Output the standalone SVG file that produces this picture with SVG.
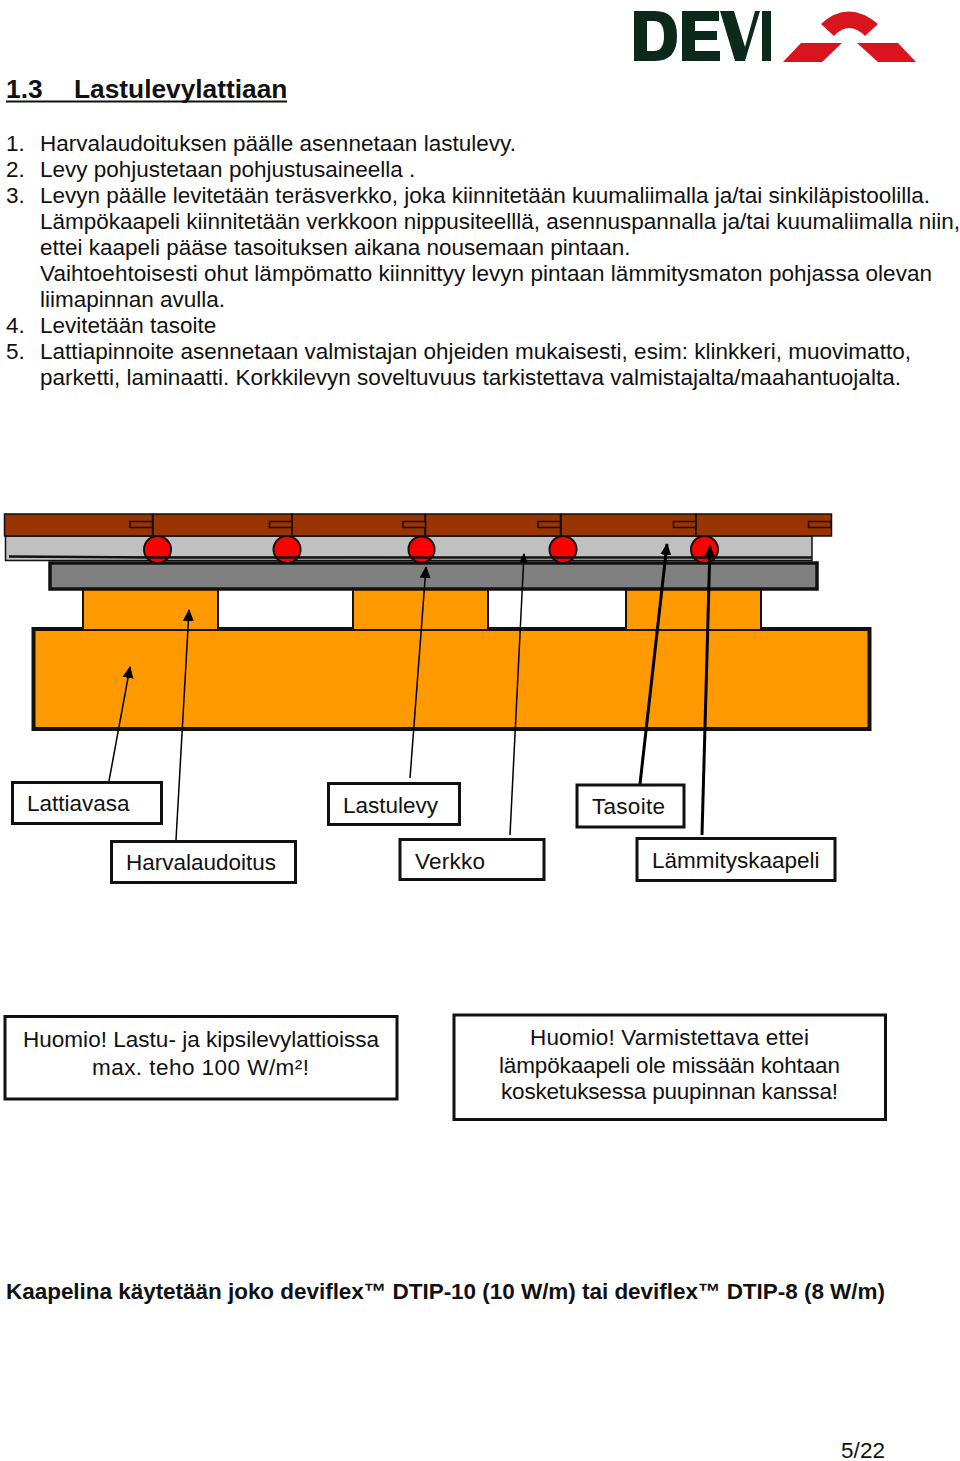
<svg xmlns="http://www.w3.org/2000/svg" width="960" height="1461" viewBox="0 0 960 1461">
<style>
text{font-family:"Liberation Sans",Arial,sans-serif;font-size:22.5px;fill:#111}
.b{font-weight:bold}
.h{font-size:26.300px}
.m{text-anchor:middle}
.box{fill:#fff;stroke:#111;stroke-width:3}
.wood{fill:#993300;stroke:#111;stroke-width:1.5}
.tab{fill:#993300;stroke:#111;stroke-width:1.5}
.cab{fill:#ff0000;stroke:#111;stroke-width:2}
.or{fill:#ff9900;stroke:#111;stroke-width:2}
.ln{stroke:#000;fill:none}
</style>
<defs>
<marker id="a" markerUnits="userSpaceOnUse" markerWidth="12" markerHeight="12" refX="11" refY="6" orient="auto"><path d="M0 0.500L12 6L0 11.500Z" fill="#000"/></marker>
<marker id="s" markerUnits="userSpaceOnUse" markerWidth="9" markerHeight="10" refX="8" refY="5" orient="auto"><path d="M0 1L9 5L0 9Z" fill="#000"/></marker>
</defs>
<rect width="960" height="1461" fill="#fff"/>
<g id="logo">
<path fill="#0c2a1c" fill-rule="evenodd" d="M634 11H655Q677 11 677 36Q677 61 655 61H634ZM647 21V51H654Q664 51 664 36Q664 21 654 21ZM682 11H719V21H695V31H717V40H695V51H720V61H682ZM720 11H734L745 47L755 11H760L745 61H735ZM762 11H771V61H762Z"/>
<path fill="#d8141f" d="M821 24Q848 -1 878 24L865 36Q849 20 834 36ZM783 62L801 43H842L822 62ZM857 43H898L916 62H878Z"/>
</g>
<g id="heading">
<text x="6" y="98" class="b h">1.3</text>
<text x="74" y="98" class="b h">Lastulevylattiaan</text>
<path d="M6 101.500H287" stroke="#111" stroke-width="2"/>
</g>
<g id="steps">
<text x="6" y="151">1.</text><text x="40" y="151" textLength="476">Harvalaudoituksen päälle asennetaan lastulevy.</text>
<text x="6" y="177">2.</text><text x="40" y="177">Levy pohjustetaan pohjustusaineella .</text>
<text x="6" y="203">3.</text><text x="40" y="203" textLength="890">Levyn päälle levitetään teräsverkko, joka kiinnitetään kuumaliimalla ja/tai sinkiläpistoolilla.</text>
<text x="40" y="229" textLength="920">Lämpökaapeli kiinnitetään verkkoon nippusiteelllä, asennuspannalla ja/tai kuumaliimalla niin,</text>
<text x="40" y="255">ettei kaapeli pääse tasoituksen aikana nousemaan pintaan.</text>
<text x="40" y="281" textLength="892">Vaihtoehtoisesti ohut lämpömatto kiinnittyy levyn pintaan lämmitysmaton pohjassa olevan</text>
<text x="40" y="307">liimapinnan avulla.</text>
<text x="6" y="333">4.</text><text x="40" y="333">Levitetään tasoite</text>
<text x="6" y="359">5.</text><text x="40" y="359" textLength="871">Lattiapinnoite asennetaan valmistajan ohjeiden mukaisesti, esim: klinkkeri, muovimatto,</text>
<text x="40" y="385" textLength="861">parketti, laminaatti. Korkkilevyn soveltuvuus tarkistettava valmistajalta/maahantuojalta.</text>
</g>
<g id="floor">
<rect x="33.500" y="629" width="836" height="100" fill="#ff9900" stroke="#111" stroke-width="4"/>
<rect class="or" x="83" y="589" width="135" height="41"/>
<rect class="or" x="353" y="589" width="135" height="41"/>
<rect class="or" x="626" y="589" width="135" height="41"/>
<rect x="50" y="563" width="767" height="26" fill="#808080" stroke="#111" stroke-width="3.500"/>
<rect x="5.500" y="536" width="806.500" height="24.500" fill="#c0c0c0" stroke="#111" stroke-width="1.500"/>
<circle class="cab" cx="157.500" cy="549.500" r="13.500"/>
<circle class="cab" cx="287" cy="549.500" r="13.500"/>
<circle class="cab" cx="421.500" cy="549.500" r="13"/>
<circle class="cab" cx="563" cy="549.500" r="13.500"/>
<circle class="cab" cx="704.500" cy="549.500" r="13.500"/>
<path d="M9 556.500L150 557.500H812" stroke="#111" stroke-width="2.500"/>
<rect class="wood" x="4.500" y="514" width="148" height="22"/>
<rect class="wood" x="153" y="514" width="139" height="22"/>
<rect class="wood" x="292" y="514" width="133" height="22"/>
<rect class="wood" x="425.500" y="514" width="135" height="22"/>
<rect class="wood" x="561" y="514" width="135" height="22"/>
<rect class="wood" x="696" y="514" width="135.500" height="22"/>
<rect class="tab" x="130" y="521.500" width="22.500" height="6"/>
<rect class="tab" x="269.500" y="521.500" width="22.500" height="6"/>
<rect class="tab" x="403" y="521.500" width="22.500" height="6"/>
<rect class="tab" x="538" y="521.500" width="22.500" height="6"/>
<rect class="tab" x="673.500" y="521.500" width="22.500" height="6"/>
<rect class="tab" x="808.500" y="521.500" width="22.500" height="6"/>
</g>
<g id="connectors">
<path class="ln" stroke-width="1.500" d="M109 781L130 667" marker-end="url(#a)"/>
<path class="ln" stroke-width="1.500" d="M176 840L189 610" marker-end="url(#a)"/>
<path class="ln" stroke-width="1.500" d="M410 778L426 567" marker-end="url(#a)"/>
<path class="ln" stroke-width="1.500" d="M510 835L524 554" marker-end="url(#s)"/>
<path class="ln" stroke-width="3" d="M640 784L667 544" marker-end="url(#a)"/>
<path class="ln" stroke-width="3" d="M702 835L710 546" marker-end="url(#a)"/>
</g>
<g id="lattiavasa"><rect class="box" x="12.500" y="782.500" width="149" height="41"/><text x="27" y="811">Lattiavasa</text></g>
<g id="lastulevy"><rect class="box" x="328.500" y="783.500" width="131" height="41"/><text x="343" y="813">Lastulevy</text></g>
<g id="tasoite"><rect class="box" x="577" y="785" width="107" height="42"/><text x="592" y="814" textLength="73">Tasoite</text></g>
<g id="harvalaudoitus"><rect class="box" x="111.500" y="841.500" width="184" height="41"/><text x="126" y="870">Harvalaudoitus</text></g>
<g id="verkko"><rect class="box" x="400" y="839.500" width="144" height="40"/><text x="415" y="869" textLength="70">Verkko</text></g>
<g id="lammityskaapeli"><rect class="box" x="637" y="838.500" width="198" height="42"/><text x="652" y="868">Lämmityskaapeli</text></g>
<g id="note1"><rect class="box" x="5" y="1016.500" width="392" height="82.500"/>
<text x="23" y="1047" textLength="356">Huomio! Lastu- ja kipsilevylattioissa</text>
<text x="92" y="1075" textLength="217">max. teho 100 W/m²!</text></g>
<g id="note2"><rect class="box" x="454" y="1015" width="431.500" height="104.500"/>
<text x="530" y="1045" textLength="279">Huomio! Varmistettava ettei</text>
<text x="499" y="1073" textLength="341">lämpökaapeli ole missään kohtaan</text>
<text x="501" y="1099" textLength="337">kosketuksessa puupinnan kanssa!</text></g>
<g id="footer">
<text x="6" y="1299" class="b" textLength="879">Kaapelina käytetään joko deviflex™ DTIP-10 (10 W/m) tai deviflex™ DTIP-8 (8 W/m)</text>
<text x="841" y="1458" textLength="44">5/22</text>
</g>
</svg>
